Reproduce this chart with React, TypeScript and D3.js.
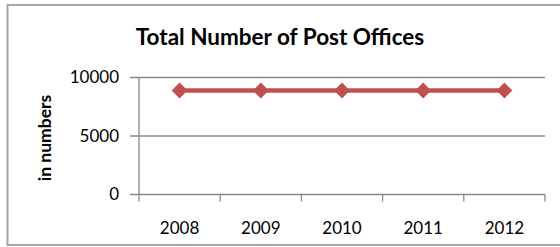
import React from 'react';
import * as d3 from 'd3';

const years = ['2008', '2009', '2010', '2011', '2012'];
const postOffices = [8890, 8890, 8890, 8890, 8890];
const yTicks = [0, 5000, 10000];

const chartTitle = 'Total Number of Post Offices';
const yTitle = 'in numbers';

const W = 560;
const H = 247;
const FONT = 'Lato, "Open Sans", sans-serif';
const RED = '#C0504D';
const GRID = '#898989';

export default function App() {
  const left = 139;
  const right = 545;
  const top = 77.5;
  const bottom = 194.5;

  const x = d3.scaleBand().domain(years).range([left, right]);
  const y = d3.scaleLinear().domain([0, 10000]).range([bottom, top]);

  const line = d3.line<number>()
    .x((d, i) => (x(years[i]) as number) + x.bandwidth() / 2)
    .y(d => y(d));

  const diamond = d3.symbol().type(d3.symbolDiamond2).size(160);
  const xEdges = years.map(yr => x(yr) as number).concat([right]);

  return (
    <svg
      width={W}
      height={H}
      style={{ position: 'absolute', left: 0, top: 0, background: '#fff' }}
    >
      {/* outer frame, open on the right */}
      <rect x={7.5} y={5} width={W} height={240} fill="#fff" stroke="#a6a6a6" strokeWidth={2} />

      <text
        x={280}
        y={45}
        textAnchor="middle"
        fontFamily={FONT}
        fontWeight="bold"
        fontSize={22.5}
        fill="#000"
      >
        {chartTitle}
      </text>

      <text
        transform={`translate(51, ${(top + bottom) / 2 + 2}) rotate(-90)`}
        textAnchor="middle"
        fontFamily={FONT}
        fontWeight="bold"
        fontSize={17.5}
        fill="#000"
      >
        {yTitle}
      </text>

      {/* gridlines + y ticks */}
      {yTicks.map(t => (
        <g key={t}>
          <line x1={130} x2={right} y1={y(t)} y2={y(t)} stroke={GRID} strokeWidth={1.3} />
          <text
            x={119}
            y={y(t)}
            dy="0.35em"
            textAnchor="end"
            fontFamily={FONT}
            fontSize={17}
            fill="#000"
          >
            {t}
          </text>
        </g>
      ))}

      {/* y axis line */}
      <line x1={left} x2={left} y1={top} y2={bottom} stroke={GRID} strokeWidth={1.3} />

      {/* x tick marks between categories */}
      {xEdges.map((ex, i) => (
        <line key={i} x1={ex} x2={ex} y1={bottom} y2={bottom + 7} stroke={GRID} strokeWidth={1.3} />
      ))}

      {years.map(yr => (
        <text
          key={yr}
          x={(x(yr) as number) + x.bandwidth() / 2}
          y={234}
          textAnchor="middle"
          fontFamily={FONT}
          fontSize={17}
          fill="#000"
        >
          {yr}
        </text>
      ))}

      <path d={line(postOffices) || ''} fill="none" stroke={RED} strokeWidth={4.5} />
      {postOffices.map((v, i) => (
        <path
          key={i}
          d={diamond() || ''}
          transform={`translate(${(x(years[i]) as number) + x.bandwidth() / 2}, ${y(v)})`}
          fill={RED}
        />
      ))}
    </svg>
  );
}
